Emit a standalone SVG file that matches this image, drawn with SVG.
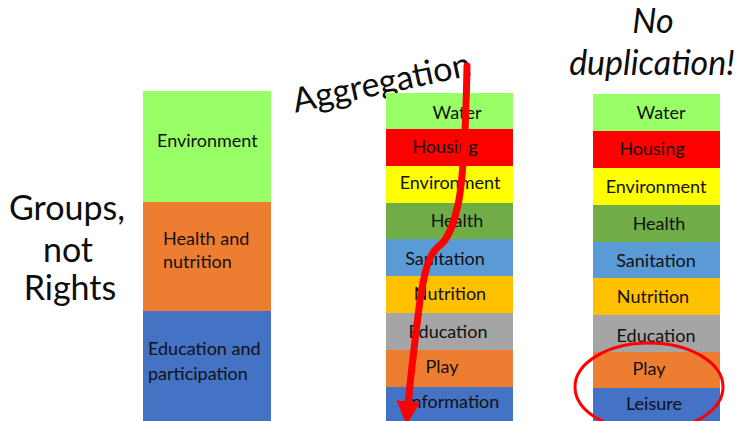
<svg xmlns="http://www.w3.org/2000/svg" width="740" height="421" viewBox="0 0 740 421">
  <style>
    .lbl { font-family: Lato, "Open Sans", "Liberation Sans", sans-serif; font-size: 18px; fill: #111; text-anchor: middle; }
    .side { font-family: Lato, "Open Sans", "Liberation Sans", sans-serif; font-size: 18px; fill: #111; }
    .big { font-family: Lato, "Open Sans", "Liberation Sans", sans-serif; font-size: 34px; fill: #0d0d0d; text-anchor: middle; }
    .ital { font-style: italic; }
    .lgreen { fill: #99FF66; }
    .red { fill: #FF0000; }
    .yellow { fill: #FFFF00; }
    .green { fill: #70AD47; }
    .lblue { fill: #5B9BD5; }
    .amber { fill: #FFC000; }
    .grey { fill: #A5A5A5; }
    .orange { fill: #ED7D31; }
    .blue { fill: #4472C4; }
    .stroke { fill: none; stroke: #FF0000; stroke-width: 7; stroke-linecap: round; stroke-linejoin: round; }
  </style>
  <defs>
    <marker id="head" viewBox="0 0 10 10" refX="2" refY="5" markerWidth="3.4" markerHeight="3.4" markerUnits="strokeWidth" orient="auto">
      <path d="M0,0 L10,5 L0,10 Z" fill="#FF0000"/>
    </marker>
  </defs>

  <rect width="740" height="421" fill="#FFFFFF"/>

  <!-- Titles -->
  <g id="title-groups">
    <text class="big" x="67" y="220" font-size="33">Groups,</text>
    <text class="big" x="68" y="262" font-size="33">not</text>
    <text class="big" x="70" y="300" font-size="33">Rights</text>
  </g>
  <g id="title-aggregation">
    <text class="big" transform="translate(384,94) rotate(-12)">Aggregation</text>
  </g>
  <g id="title-noduplication">
    <text class="big ital" x="653" y="33">No</text>
    <text class="big ital" x="652" y="75">duplication!</text>
  </g>

  <!-- Column of groups -->
  <g id="group-environment">
    <rect class="lgreen" x="143" y="91" width="128" height="111"/>
    <text class="side" x="157" y="147">Environment</text>
  </g>
  <g id="group-health">
    <rect class="orange" x="143" y="202" width="128" height="110"/>
    <text class="side" x="163" y="245">Health and</text>
    <text class="side" x="163" y="268">nutrition</text>
  </g>
  <g id="group-education">
    <rect class="blue" x="143" y="311" width="128" height="110"/>
    <text class="side" x="148" y="355">Education and</text>
    <text class="side" x="148" y="380">participation</text>
  </g>

  <!-- Column of aggregated rights -->
  <g id="agg-water"><rect class="lgreen" x="386" y="93" width="127" height="37"/><text class="lbl" x="457" y="119">Water</text></g>
  <g id="agg-housing"><rect class="red" x="386" y="129" width="127" height="38"/><text class="lbl" x="445" y="153">Housing</text></g>
  <g id="agg-environment"><rect class="yellow" x="386" y="166" width="127" height="38"/><text class="lbl" x="450" y="189">Environment</text></g>
  <g id="agg-health"><rect class="green" x="386" y="203" width="127" height="37"/><text class="lbl" x="457" y="227">Health</text></g>
  <g id="agg-sanitation"><rect class="lblue" x="386" y="239" width="127" height="38"/><text class="lbl" x="445" y="265">Sanitation</text></g>
  <g id="agg-nutrition"><rect class="amber" x="386" y="276" width="127" height="38"/><text class="lbl" x="450" y="300">Nutrition</text></g>
  <g id="agg-education"><rect class="grey" x="386" y="313" width="127" height="38"/><text class="lbl" x="448" y="338">Education</text></g>
  <g id="agg-play"><rect class="orange" x="386" y="350" width="127" height="38"/><text class="lbl" x="442" y="373">Play</text></g>
  <g id="agg-information"><rect class="blue" x="386" y="387" width="127" height="34"/><text class="lbl" x="453" y="408">Information</text></g>

  <!-- Column without duplication -->
  <g id="nd-water"><rect class="lgreen" x="593" y="94" width="127" height="38"/><text class="lbl" x="661" y="119">Water</text></g>
  <g id="nd-housing"><rect class="red" x="593" y="131" width="127" height="38"/><text class="lbl" x="652" y="155">Housing</text></g>
  <g id="nd-environment"><rect class="yellow" x="593" y="168" width="127" height="38"/><text class="lbl" x="656" y="193">Environment</text></g>
  <g id="nd-health"><rect class="green" x="593" y="205" width="127" height="38"/><text class="lbl" x="659" y="230">Health</text></g>
  <g id="nd-sanitation"><rect class="lblue" x="593" y="242" width="127" height="37"/><text class="lbl" x="656" y="267">Sanitation</text></g>
  <g id="nd-nutrition"><rect class="amber" x="593" y="278" width="127" height="38"/><text class="lbl" x="653" y="303">Nutrition</text></g>
  <g id="nd-education"><rect class="grey" x="593" y="315" width="127" height="38"/><text class="lbl" x="656" y="342">Education</text></g>
  <g id="nd-play"><rect class="orange" x="593" y="352" width="127" height="37"/><text class="lbl" x="649" y="375">Play</text></g>
  <g id="nd-leisure"><rect class="blue" x="593" y="388" width="127" height="33"/><text class="lbl" x="654" y="410">Leisure</text></g>

  <!-- Connectors and highlights -->
  <g id="connectors">
    <path class="stroke" marker-end="url(#head)" d="M467,66 C466,120 464,170 459,200 C454,225 448,240 438,247 C428,255 424,275 420,300 C415,340 410,380 408,406"/>
    <ellipse cx="649" cy="387" rx="74" ry="44" fill="none" stroke="#FF0000" stroke-width="3"/>
  </g>
</svg>
